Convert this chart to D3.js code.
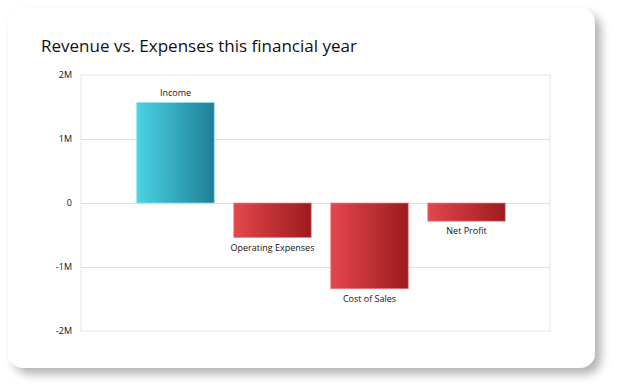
<!DOCTYPE html>
<html>
<head>
<meta charset="utf-8">
<script src="https://cdn.jsdelivr.net/npm/d3@7"></script>
<style>
  html, body { margin: 0; padding: 0; background: #fff; }
  svg { display: block; font-family: "Open Sans", sans-serif; }
</style>
</head>
<body>
<div id="chart"></div>
<script>
var categories = ["Income", "Operating Expenses", "Cost of Sales", "Net Profit"],
    values = [1570000, -540000, -1340000, -285000],
    tickValues = [2000000, 1000000, 0, -1000000, -2000000],
    tickLabels = ["2M", "1M", "0", "-1M", "-2M"]

var width = 619, height = 391

var svg = d3.select("#chart").append("svg")
    .attr("width", width)
    .attr("height", height)

var defs = svg.append("defs")

defs.append("filter").attr("id", "shadow")
    .attr("x", "-10%").attr("y", "-10%").attr("width", "125%").attr("height", "130%")
    .append("feDropShadow")
    .attr("dx", 6).attr("dy", 6).attr("stdDeviation", 5)
    .attr("flood-color", "#000").attr("flood-opacity", 0.3)

function gradient(id, from, to) {
    var g = defs.append("linearGradient").attr("id", id)
        .attr("x1", "0%").attr("x2", "100%").attr("y1", "0%").attr("y2", "0%")
    g.append("stop").attr("offset", "0%").attr("stop-color", from)
    g.append("stop").attr("offset", "100%").attr("stop-color", to)
}
gradient("gradUp", "#4ad4e4", "#1d7e97")
gradient("gradDown", "#e4474c", "#9c1b1e")

// card
svg.append("rect")
    .attr("x", 8).attr("y", 8)
    .attr("width", 587).attr("height", 360)
    .attr("rx", 15)
    .attr("fill", "#fff")
    .attr("filter", "url(#shadow)")

svg.append("text")
    .attr("x", 41).attr("y", 52)
    .attr("font-size", 17)
    .attr("fill", "#111")
    .text("Revenue vs. Expenses this financial year")

var plot = { left: 81, right: 550, top: 75, bottom: 331 }

var y = d3.scaleLinear()
    .domain([-2000000, 2000000])
    .range([plot.bottom, plot.top])

var x = d3.scaleBand()
    .domain(categories)
    .range([127, 515])
    .paddingInner(0.2)
    .paddingOuter(0.1)

// plot frame
svg.append("rect")
    .attr("x", plot.left).attr("y", plot.top)
    .attr("width", plot.right - plot.left).attr("height", plot.bottom - plot.top)
    .attr("fill", "none")
    .attr("stroke", "#e6e6e6")

// grid
svg.append("g")
    .selectAll("line")
    .data(tickValues.slice(1, -1))
    .join("line")
    .attr("x1", plot.left).attr("x2", plot.right)
    .attr("y1", function(d) { return y(d) + 0.5 })
    .attr("y2", function(d) { return y(d) + 0.5 })
    .attr("stroke", "#e3e3e3")

// y axis labels
var yAxis = d3.axisLeft(y)
    .tickValues(tickValues)
    .tickSize(0)
    .tickPadding(9)
    .tickFormat(function(d, i) { return tickLabels[i] })

svg.append("g")
    .attr("transform", "translate(" + plot.left + ",0)")
    .call(yAxis)
    .call(function(g) { g.select(".domain").remove() })
    .selectAll("text")
    .attr("font-size", 9)
    .attr("font-family", "Open Sans, sans-serif")
    .attr("fill", "#111")

// bars
svg.append("g")
    .selectAll("rect")
    .data(values)
    .join("rect")
    .attr("x", function(d, i) { return x(categories[i]) })
    .attr("width", x.bandwidth())
    .attr("y", function(d) { return y(Math.max(0, d)) })
    .attr("height", function(d) { return Math.abs(y(d) - y(0)) })
    .attr("fill", function(d) { return d >= 0 ? "url(#gradUp)" : "url(#gradDown)" })
    .attr("stroke", function(d) { return d >= 0 ? "#8fe3ee" : "#ec8a8c" })
    .attr("stroke-width", 1)
    .attr("stroke-opacity", 0.7)

// bar labels
svg.append("g")
    .selectAll("text")
    .data(values)
    .join("text")
    .attr("x", function(d, i) { return x(categories[i]) + x.bandwidth() / 2 })
    .attr("y", function(d) { return d >= 0 ? y(d) - 7 : y(d) + 13 })
    .attr("text-anchor", "middle")
    .attr("font-size", 9)
    .attr("fill", "#111")
    .text(function(d, i) { return categories[i] })
</script>
</body>
</html>
